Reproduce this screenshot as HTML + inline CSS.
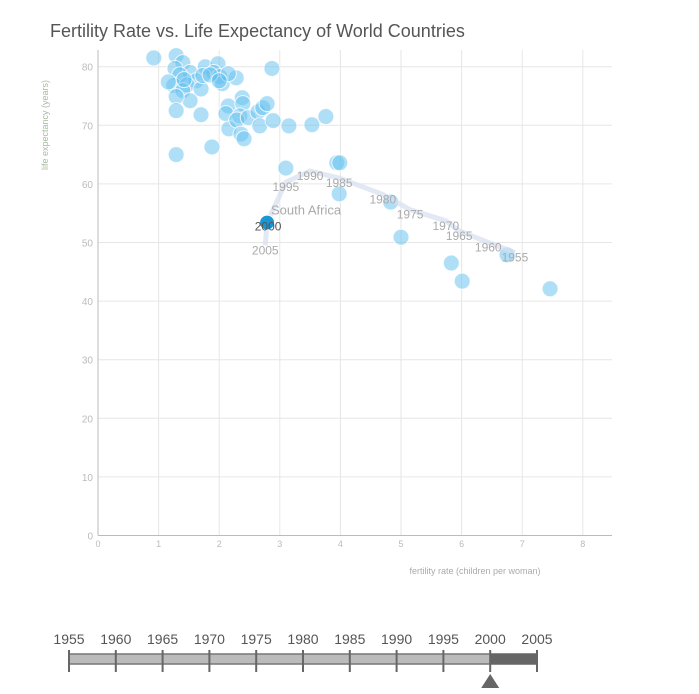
<!DOCTYPE html>
<html><head><meta charset="utf-8"><style>
body{margin:0;background:#fff;font-family:"Liberation Sans",Arial,sans-serif;}
svg{display:block}
</style></head><body>
<svg id="chart" width="699" height="694" font-family="Liberation Sans, Arial, sans-serif">
<text x="50" y="37" font-size="18" fill="#555">Fertility Rate vs. Life Expectancy of World Countries</text>
<g id="grid"></g>
<g id="axes"></g>
<text x="475" y="574" font-size="9" fill="#aaa" text-anchor="middle">fertility rate (children per woman)</text>
<text transform="translate(48,170) rotate(-90)" font-size="9" fill="#a9b9a0">life expectancy (years)</text>
<g id="dots"></g>
<g id="trail"></g>
<g id="timeline"></g>
</svg>
<script>
const countryFert = [0.92,1.29,1.40,1.27,1.52,1.35,1.77,1.98,1.91,2.01,1.62,1.25,1.47,1.40,1.70,2.05,2.28,2.87,1.52,1.29,1.29,1.70,2.15,2.38,2.39,1.88,1.29,2.11,2.34,2.16,2.29,2.48,2.64,2.72,2.79,2.36,2.41,2.67,2.89,3.15,3.53,3.76,3.10,3.94,3.99,3.98,4.83,5.00,5.83,6.01,7.46,6.75,1.42,1.16,1.73,1.85,2.15,2.00];
const countryLife = [81.5,81.9,80.7,79.7,79.0,78.6,80.0,80.5,79.0,78.3,77.6,76.8,76.9,75.9,76.2,77.1,78.1,79.7,74.2,74.9,72.5,71.8,73.3,74.7,73.7,66.3,65.0,72.0,71.6,69.4,70.9,71.3,72.3,73.0,73.7,68.5,67.7,69.9,70.8,69.9,70.1,71.5,62.7,63.6,63.6,58.3,56.9,50.9,46.5,43.4,42.1,47.9,77.8,77.4,78.5,78.6,78.8,77.6];
const trailYears = [1955,1960,1965,1970,1975,1980,1985,1990,1995,2000,2005];
const trailFert = [6.88,6.44,5.96,5.74,5.15,4.70,3.98,3.50,3.10,2.79,2.76];
const trailLife = [48.3,50.0,52.0,53.7,55.6,58.2,61.0,62.2,60.3,53.4,49.5];
const xTicks = [0,1,2,3,4,5,6,7,8];
const yTicks = [0,10,20,30,40,50,60,70,80];
const timelineYears = [1955,1960,1965,1970,1975,1980,1985,1990,1995,2000,2005];
const selectedYear = 2000;

const NS="http://www.w3.org/2000/svg";
const X=v=>98+v*60.6, Y=v=>535.5-v*5.86;
const T=y=>69+(y-1955)*9.36;
function mk(tag,attrs,parent,text){const e=document.createElementNS(NS,tag);for(const k in attrs)e.setAttribute(k,attrs[k]);if(text!=null)e.textContent=text;parent.appendChild(e);return e;}
const grid=document.getElementById('grid'),axes=document.getElementById('axes');
xTicks.forEach(t=>{
  const l=mk('line',{x1:X(t),x2:X(t),y1:50,y2:535.5,stroke:'#e6e6e6'},grid);
  
  
  const tx=mk('text',{x:X(t),y:547,'font-size':9,fill:'#bbb','text-anchor':'middle'},axes,t);
  
  
});
yTicks.forEach(t=>{
  const l=mk('line',{x1:98,x2:612,y1:Y(t),y2:Y(t),stroke:'#e6e6e6'},grid);
  
  
  const tx=mk('text',{x:93,y:Y(t)+4,'font-size':10,fill:'#bbb','text-anchor':'end'},axes,t);
  
  
});
const xa=mk('line',{x1:98,x2:612,y1:535.5,y2:535.5,stroke:'#bbb'},axes);


const ya=mk('line',{x1:98,x2:98,y1:50,y2:535.5,stroke:'#bbb'},axes);



const dots=document.getElementById('dots');
countryFert.forEach((f,i)=>{
  const c=mk('circle',{cx:X(f),cy:Y(countryLife[i]),r:8,fill:'#5fc0ef','fill-opacity':0.5,stroke:'#fff','stroke-opacity':0.8},dots);
  
  
});

const trail=document.getElementById('trail');
const pts=trailFert.map((f,i)=>X(f)+','+Y(trailLife[i])).join(' ');
const pl=mk('polyline',{points:pts,fill:'none',stroke:'#d5dff0','stroke-width':5,'stroke-opacity':0.7,'stroke-linejoin':'round'},trail);


trailYears.forEach((yr,i)=>{
  if(yr===selectedYear)return;
  const t=mk('text',{x:X(trailFert[i]),y:Y(trailLife[i])+9,'font-size':12,fill:'#aaa','text-anchor':'middle'},trail,yr);
  
  
});
const si=trailYears.indexOf(selectedYear);
const sel=mk('circle',{cx:X(trailFert[si]),cy:Y(trailLife[si]),r:7.5,fill:'#1a96d4',stroke:'#fff'},trail);


const sl=mk('text',{x:X(trailFert[si])+1,y:Y(trailLife[si])+8,'font-size':12,fill:'#555','text-anchor':'middle'},trail,selectedYear);


const cn=mk('text',{x:X(trailFert[si])+39,y:Y(trailLife[si])-8,'font-size':13,fill:'#aaa','text-anchor':'middle'},trail,'South Africa');



const tl=document.getElementById('timeline');
const r1=mk('rect',{x:69,y:654,width:T(selectedYear)-69,height:10,fill:'#bbb',stroke:'#777','stroke-width':1.5},tl);


const r2=mk('rect',{x:T(selectedYear),y:654,width:T(2005)-T(selectedYear),height:10,fill:'#666',stroke:'#666','stroke-width':1.5},tl);


timelineYears.forEach(yr=>{
  const l=mk('line',{x1:T(yr),x2:T(yr),y1:650,y2:672,stroke:'#666','stroke-width':2},tl);
  
  
  const t=mk('text',{x:T(yr),y:644,'font-size':14,fill:'#555','text-anchor':'middle'},tl,yr);
  
  
});
const tri=mk('polygon',{points:(T(selectedYear)-9)+',688 '+(T(selectedYear)+9)+',688 '+T(selectedYear)+',674',fill:'#666'},tl);


</script>
</body></html>
